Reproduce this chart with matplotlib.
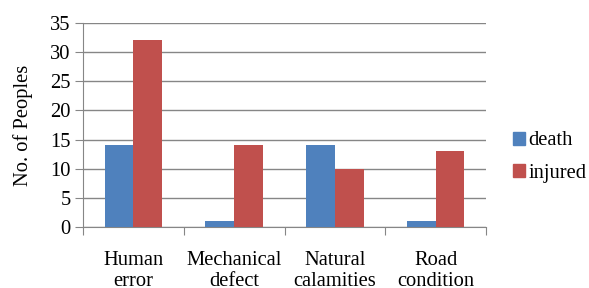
import matplotlib
matplotlib.use("Agg")
import matplotlib.pyplot as plt
from matplotlib.patches import Patch
import numpy as np

categories = ["Human\nerror", "Mechanical\ndefect", "Natural\ncalamities", "Road\ncondition"]
death = [14, 1, 14, 1]
injured = [32, 14, 10, 13]
series_names = ["death", "injured"]
colors = ["#4F81BD", "#C0504D"]

plt.rcParams['font.family'] = ['Liberation Serif', 'DejaVu Serif']
FS = 14.8

fig = plt.figure(figsize=(5.89, 2.88), dpi=100)
W, H = 589, 288
ax = fig.add_axes([83 / W, 1 - 227 / H, (486 - 83) / W, (227 - 23) / H])

x = np.arange(len(categories))
bw = 0.285
ax.bar(x - bw / 2, death, bw, color=colors[0], zorder=3)
ax.bar(x + bw / 2, injured, bw, color=colors[1], zorder=3)

ax.set_xlim(-0.5, len(categories) - 0.5)
ax.set_ylim(0, 35)
ax.set_yticks(range(0, 36, 5))
ax.yaxis.grid(True, color="#868686", linewidth=1, zorder=0)
ax.tick_params(axis="y", length=6, color="#868686", labelsize=FS, pad=3)

ax.set_xticks(np.arange(-0.5, len(categories), 1.0))
ax.set_xticklabels([])
ax.tick_params(axis="x", which="major", length=6, color="#868686")
ax.set_xticks(x, minor=True)
ax.set_xticklabels(categories, minor=True, fontsize=FS, linespacing=1.15)
ax.tick_params(axis="x", which="minor", length=0, pad=17)

for s in ["top", "right"]:
    ax.spines[s].set_visible(False)
for s in ["left", "bottom"]:
    ax.spines[s].set_color("#868686")

ax.set_ylabel("No. of Peoples", fontsize=FS, labelpad=12.5)

handles = [Patch(color=c) for c in colors]
fig.legend(handles, series_names, loc="center left", bbox_to_anchor=(513 / W, 1 - 157 / H),
           frameon=False, fontsize=FS, handlelength=0.6, handleheight=0.6,
           handletextpad=0.15, labelspacing=0.65, borderpad=0, borderaxespad=0)

fig.savefig("out.png", dpi=100)
